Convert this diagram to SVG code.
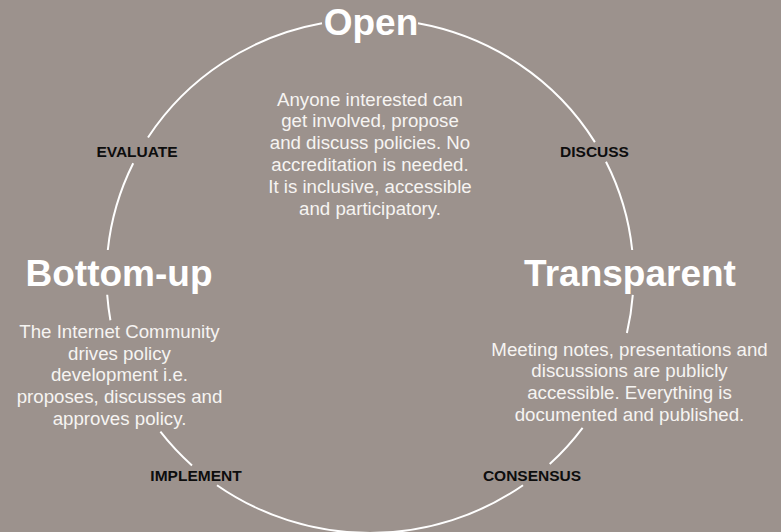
<svg xmlns="http://www.w3.org/2000/svg" width="781" height="532" viewBox="0 0 781 532">
<style>
.bg{fill:#9c928d}
.arc{fill:none;stroke:#ffffff;stroke-width:2;stroke-linecap:butt}
.title{font-family:"Liberation Sans",Arial,Helvetica,sans-serif;font-weight:bold;font-size:37px;fill:#ffffff;text-anchor:middle}
.body{font-family:"Liberation Sans",Arial,Helvetica,sans-serif;font-size:18.7px;fill:#f6f4f2;text-anchor:middle}
.step{font-family:"Liberation Sans",Arial,Helvetica,sans-serif;font-weight:bold;font-size:15.5px;fill:#0d0d0d;text-anchor:middle}
</style>
<rect class="bg" x="0" y="0" width="781" height="532"/>
<g id="connectors">
<path class="arc" d="M418.0,23.3 A263.5,257 0 0 1 594.9,142.1"/>
<path class="arc" d="M606.0,161.7 A263.5,257 0 0 1 632.2,250.0"/>
<path class="arc" d="M632.8,294.8 A263.5,257 0 0 1 626.9,332.9"/>
<path class="arc" d="M582.6,427.8 A263.5,257 0 0 1 549.7,464.0"/>
<path class="arc" d="M523.0,485.2 A263.5,257 0 0 1 217.0,485.2"/>
<path class="arc" d="M192.0,465.5 A263.5,257 0 0 1 160.4,431.7"/>
<path class="arc" d="M110.4,320.2 A263.5,257 0 0 1 107.2,294.8"/>
<path class="arc" d="M107.8,250.0 A263.5,257 0 0 1 133.2,163.3"/>
<path class="arc" d="M148.0,137.5 A263.5,257 0 0 1 322.0,23.3"/>
</g>
<g id="open">
<text class="title" x="371" y="35">Open</text>
<text class="body" x="370" y="105.5">Anyone interested can</text>
<text class="body" x="370" y="127.3">get involved, propose</text>
<text class="body" x="370" y="149.1">and discuss policies. No</text>
<text class="body" x="370" y="170.9">accreditation is needed.</text>
<text class="body" x="370" y="192.7">It is inclusive, accessible</text>
<text class="body" x="370" y="214.5">and participatory.</text>
</g>
<g id="transparent">
<text class="title" x="630" y="286">Transparent</text>
<text class="body" x="629.5" y="355.7">Meeting notes, presentations and</text>
<text class="body" x="629.5" y="377.4">discussions are publicly</text>
<text class="body" x="629.5" y="399.1">accessible. Everything is</text>
<text class="body" x="629.5" y="420.8">documented and published.</text>
</g>
<g id="bottom-up">
<text class="title" x="119" y="286">Bottom-up</text>
<text class="body" x="119.5" y="338">The Internet Community</text>
<text class="body" x="119.5" y="359.7">drives policy</text>
<text class="body" x="119.5" y="381.4">development i.e.</text>
<text class="body" x="119.5" y="403.1">proposes, discusses and</text>
<text class="body" x="119.5" y="424.8">approves policy.</text>
</g>
<g id="discuss"><text class="step" x="594.5" y="157">DISCUSS</text></g>
<g id="consensus"><text class="step" x="532" y="481">CONSENSUS</text></g>
<g id="implement"><text class="step" x="196" y="481">IMPLEMENT</text></g>
<g id="evaluate"><text class="step" x="137" y="157">EVALUATE</text></g>
</svg>
